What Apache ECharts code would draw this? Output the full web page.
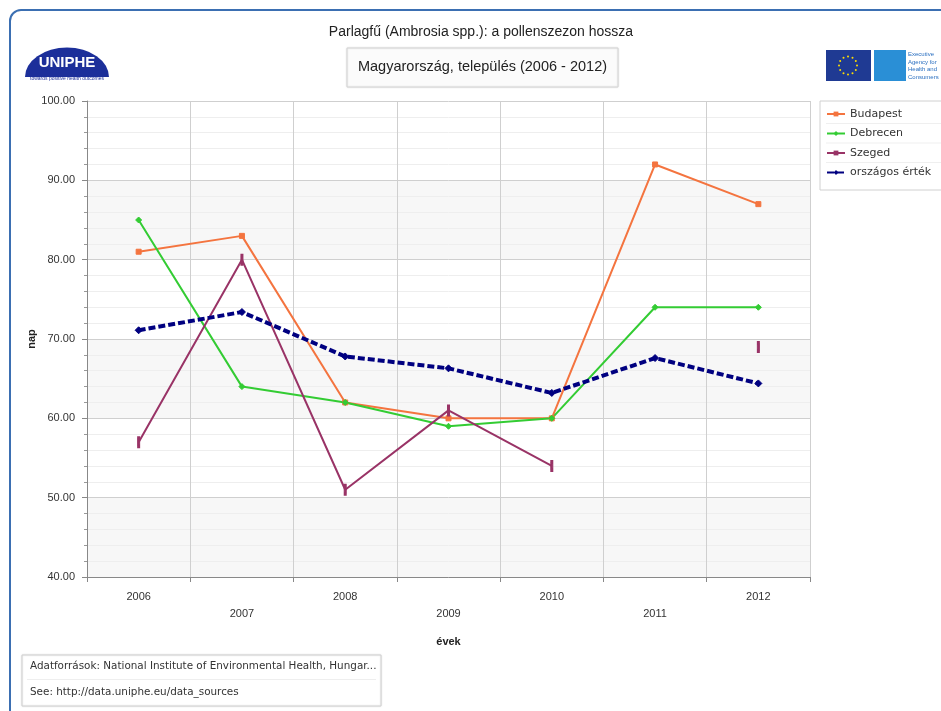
<!DOCTYPE html>
<html>
<head>
<meta charset="utf-8">
<script src="https://cdn.jsdelivr.net/npm/echarts@6/dist/echarts.min.js"></script>
<style>
  html, body { margin: 0; padding: 0; background: #fff; overflow: hidden; }
  .frame {
    position: absolute; left: 9px; top: 9px; width: 960px; height: 740px;
    border: 2px solid #3b6fb2; border-radius: 12px; box-sizing: border-box;
  }
  #chart { position: absolute; left: 0; top: 0; width: 941px; height: 711px; }
</style>
</head>
<body>
<div class="frame"></div>
<div id="chart"></div>
<script>
// adatok
const years = ['2006', '2007', '2008', '2009', '2010', '2011', '2012']
const budapest = [81, 83, 62, 60, 60, 92, 87]
const debrecen = [85, 64, 62, 59, 60, 74, 74]
const szeged = [57, 80, 51, 61, 54, null, 69]
const orszagos = [71.1, 73.4, 67.8, 66.3, 63.2, 67.6, 64.4]
const yTicks = { min: 40, max: 100, step: 10 }

const chart = echarts.init(document.getElementById('chart'))

// EU csillagkör a logóhoz
const stars = []
for (let i = 0; i < 12; i++) {
  const a = i * Math.PI / 6
  stars.push({
    type: 'circle',
    shape: { cx: 848 + 9 * Math.cos(a), cy: 65.5 + 9 * Math.sin(a), r: 1 },
    style: { fill: '#ffdd00' }
  })
}

// halvány elválasztók a jelmagyarázat sorai között
const legendSeps = [123.5, 143, 162.5].map(y => ({
  type: 'line', shape: { x1: 826, y1: y, x2: 941, y2: y },
  style: { stroke: '#efefef', lineWidth: 1 }, z: 200
}))

const lineSeries = (name, data, color, symbol, size, extra) => Object.assign({
  name, type: 'line', data,
  symbol, symbolSize: size, showAllSymbol: true,
  connectNulls: false,
  lineStyle: { color, width: 2 },
  itemStyle: { color, borderColor: color },
  emphasis: { disabled: true }
}, extra || {})

chart.setOption({
  backgroundColor: 'transparent',
  animation: false,
  textStyle: { fontFamily: 'Liberation Sans' },
  graphic: [
    // cím
    {
      type: 'text', x: 481, y: 32,
      style: { text: 'Parlagfű (Ambrosia spp.): a pollenszezon hossza', fontSize: 14, fill: '#222',
        fontFamily: 'Liberation Sans', align: 'center', verticalAlign: 'middle' }
    },
    // alcím doboz
    {
      type: 'rect', shape: { x: 347, y: 48, width: 271, height: 39 },
      style: { fill: '#fbfbfb', stroke: '#d4d4d4', lineWidth: 1, shadowBlur: 2, shadowColor: 'rgba(0,0,0,0.12)' }
    },
    {
      type: 'text', x: 482.5, y: 67,
      style: { text: 'Magyarország, település (2006 - 2012)', fontSize: 14.5, fill: '#222',
        fontFamily: 'Liberation Sans', align: 'center', verticalAlign: 'middle' }
    },
    // UNIPHE logó
    {
      type: 'sector', shape: { cx: 67, cy: 77, r0: 0, r: 42, startAngle: Math.PI, endAngle: 2 * Math.PI },
      scaleY: 0.7, originY: 77,
      style: { fill: '#1c2f9a' }
    },
    {
      type: 'text', x: 67, y: 63,
      style: { text: 'UNIPHE', fontSize: 15, fontWeight: 'bold', fill: '#fff',
        fontFamily: 'Liberation Sans', align: 'center', verticalAlign: 'middle' }
    },
    {
      type: 'text', x: 67, y: 79,
      style: { text: 'towards positive health outcomes', fontSize: 5, fill: '#1c2f9a',
        fontFamily: 'Liberation Sans', align: 'center', verticalAlign: 'middle' }
    },
    // EU / EAHC logó
    { type: 'rect', shape: { x: 826, y: 50, width: 45, height: 31 }, style: { fill: '#1f3a93' } },
    ...stars,
    { type: 'rect', shape: { x: 874, y: 50, width: 32, height: 31 }, style: { fill: '#2a8fd6' } },
    {
      type: 'text', x: 908, y: 51,
      style: { text: 'Executive\nAgency for\nHealth and\nConsumers', fontSize: 6, lineHeight: 7.5,
        fill: '#2a6fc0', fontFamily: 'Liberation Sans' }
    },
    ...legendSeps,
    // forrás doboz
    {
      type: 'rect', shape: { x: 22, y: 655, width: 359, height: 51 },
      style: { fill: '#fff', stroke: '#d0d0d0', lineWidth: 1, shadowBlur: 2, shadowColor: 'rgba(0,0,0,0.12)' }
    },
    { type: 'line', shape: { x1: 27, y1: 679.5, x2: 376, y2: 679.5 }, style: { stroke: '#eeeeee', lineWidth: 1 } },
    {
      type: 'text', x: 30, y: 666,
      style: { text: 'Adatforrások: National Institute of Environmental Health, Hungar...', fontSize: 10.4,
        fill: '#333', fontFamily: 'DejaVu Sans', verticalAlign: 'middle' }
    },
    {
      type: 'text', x: 30, y: 692,
      style: { text: 'See: http://data.uniphe.eu/data_sources', fontSize: 10.4,
        fill: '#333', fontFamily: 'DejaVu Sans', verticalAlign: 'middle' }
    }
  ],
  legend: {
    orient: 'vertical', left: 820, top: 101,
    itemWidth: 18, itemHeight: 6, itemGap: 8.5,
    padding: [7.5, 12, 12, 6],
    backgroundColor: '#fff', borderColor: '#d0d0d0', borderWidth: 1,
    textStyle: { fontSize: 11, color: '#333', fontFamily: 'DejaVu Sans' },
    data: ['Budapest', 'Debrecen', 'Szeged', 'országos érték']
  },
  grid: { left: 87, right: 131, top: 101, bottom: 134 },
  xAxis: {
    type: 'category', data: years, boundaryGap: true,
    name: 'évek', nameLocation: 'middle', nameGap: 59, nameMoveOverlap: false,
    nameTextStyle: { fontSize: 11, fontWeight: 'bold', color: '#222' },
    axisLine: { lineStyle: { color: '#888' } },
    axisTick: { show: true, length: 5, lineStyle: { color: '#888' }, interval: 0 },
    axisLabel: {
      interval: 0, margin: 11, fontSize: 11, color: '#333', lineHeight: 17,
      formatter: (v, i) => (i % 2 ? '\n' + v : v)
    },
    splitLine: { show: true, interval: 0, lineStyle: { color: '#cfcfcf' } }
  },
  yAxis: {
    type: 'value', min: yTicks.min, max: yTicks.max, interval: yTicks.step,
    name: 'nap', nameLocation: 'middle', nameGap: 50, nameRotate: 90, nameMoveOverlap: false,
    nameTextStyle: { fontSize: 11, fontWeight: 'bold', color: '#222' },
    axisLine: { show: true, lineStyle: { color: '#888' } },
    axisTick: { show: true, length: 5, lineStyle: { color: '#888' } },
    minorTick: { show: true, splitNumber: 5, length: 3, lineStyle: { color: '#999' } },
    axisLabel: { fontSize: 11, color: '#333', margin: 12, formatter: v => v.toFixed(2) },
    splitLine: { lineStyle: { color: '#cfcfcf' } },
    minorSplitLine: { show: true, lineStyle: { color: '#eeeeee' } },
    splitArea: { show: true, areaStyle: { color: ['#f7f7f7', '#ffffff'] } }
  },
  series: [
    lineSeries('Budapest', budapest, '#f4743f', 'rect', 5),
    lineSeries('Debrecen', debrecen, '#33cc33', 'diamond', 6),
    lineSeries('Szeged', szeged, '#993366', 'rect', [2, 8]),
    lineSeries('országos érték', orszagos, '#000080', 'diamond', 7, {
      lineStyle: { color: '#000080', width: 4, type: [7, 3] }
    })
  ]
})
</script>
</body>
</html>
